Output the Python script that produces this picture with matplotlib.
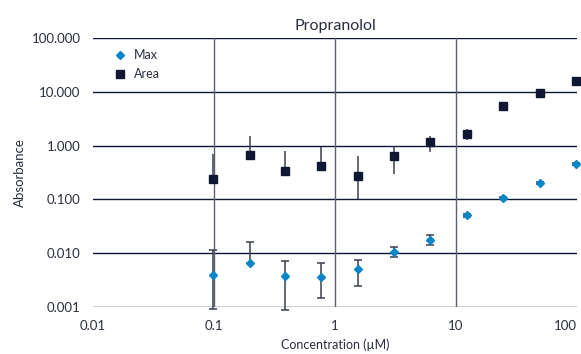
import numpy as np
import matplotlib.pyplot as plt

plt.rcParams['font.family'] = ['Lato', 'DejaVu Sans']

# concentrations (uM)
conc = [0.1, 0.2, 0.39, 0.78, 1.56, 3.125, 6.25, 12.5, 25, 50, 100]

# Max series with error bar ends
max_val = [0.0039, 0.0064, 0.0037, 0.0036, 0.0050, 0.0106, 0.0177, 0.050, 0.106, 0.20, 0.45]
max_hi = [0.0111, 0.0158, 0.0070, 0.0064, 0.0074, 0.0129, 0.0216, 0.054, 0.110, 0.21, 0.47]
max_lo = [0.0009, 0.0064, 0.00087, 0.00144, 0.00246, 0.0083, 0.0141, 0.046, 0.102, 0.19, 0.43]

# Area series
area_val = [0.243, 0.66, 0.33, 0.41, 0.27, 0.64, 1.15, 1.64, 5.4, 9.6, 15.8]
area_hi = [0.69, 1.49, 0.78, 0.93, 0.63, 1.0, 1.49, 2.04, 5.6, 11.4, 16.0]
area_lo = [0.243, 0.66, 0.33, 0.41, 0.10, 0.30, 0.76, 1.29, 4.7, 8.0, 15.6]

yticks = [0.001, 0.01, 0.1, 1, 10, 100]
ytick_labels = ['0.001', '0.010', '0.100', '1.000', '10.000', '100.000']
xticks = [0.01, 0.1, 1, 10, 100]
xtick_labels = ['0.01', '0.1', '1', '10', '100']

navy = '#101733'
blue = '#0a86c8'
txt = '#2a2e3e'

fig = plt.figure(figsize=(5.81, 3.54), dpi=100)
ax = fig.add_axes([0.160, 0.134, 0.833, 0.758])
ax.set_xscale('log')
ax.set_yscale('log')
ax.set_xlim(0.01, 100)
ax.set_ylim(0.001, 100)

# grid lines
for y in yticks:
    ax.axhline(y, color=navy, lw=1.0, zorder=1)
for x in [0.1, 1, 10]:
    ax.axvline(x, color='#5c6070', lw=1.0, zorder=1)

c = np.array(conc)
mv, mh, ml = np.array(max_val), np.array(max_hi), np.array(max_lo)
av, ah, al = np.array(area_val), np.array(area_hi), np.array(area_lo)

ax.errorbar(c * 0.985, mv, yerr=[mv - ml, mh - mv], fmt='none', ecolor='#3a3e50',
            elinewidth=1.1, capsize=3, capthick=1.1, zorder=2, clip_on=False)
ax.errorbar(c * 0.985, av, yerr=[av - al, ah - av], fmt='none', ecolor='#3a3e50',
            elinewidth=1.1, capsize=0, zorder=2, clip_on=False)
ax.plot(c * 0.985, mv, 'D', color=blue, ms=4.2, mec=blue, ls='none', label='Max',
        zorder=3, clip_on=False)
ax.plot(c * 0.985, av, 's', color=navy, ms=5.2, ls='none', label='Area',
        zorder=3, clip_on=False)

for s in ax.spines.values():
    s.set_visible(False)
ax.minorticks_off()
ax.set_yticks(yticks)
ax.set_yticklabels(ytick_labels)
ax.set_xticks(xticks)
ax.set_xticklabels(xtick_labels)
ax.tick_params(length=0, labelsize=9.5, colors=txt, pad=9)
ax.tick_params(axis='x', pad=10)
ax.get_xticklabels()[-1].set_horizontalalignment('right')

ax.set_title('Propranolol', fontsize=11.5, color=txt, pad=6)
ax.set_xlabel('Concentration (µM)', fontsize=9, color=txt, labelpad=4)
ax.set_ylabel('Absorbance', fontsize=9.5, color=txt, labelpad=4)

ax.legend(loc='upper left', bbox_to_anchor=(0.02, 1.0), frameon=False, fontsize=9,
          handlelength=1.0, handletextpad=0.6, labelspacing=0.55, labelcolor=txt)

fig.savefig('out.png', dpi=100)
